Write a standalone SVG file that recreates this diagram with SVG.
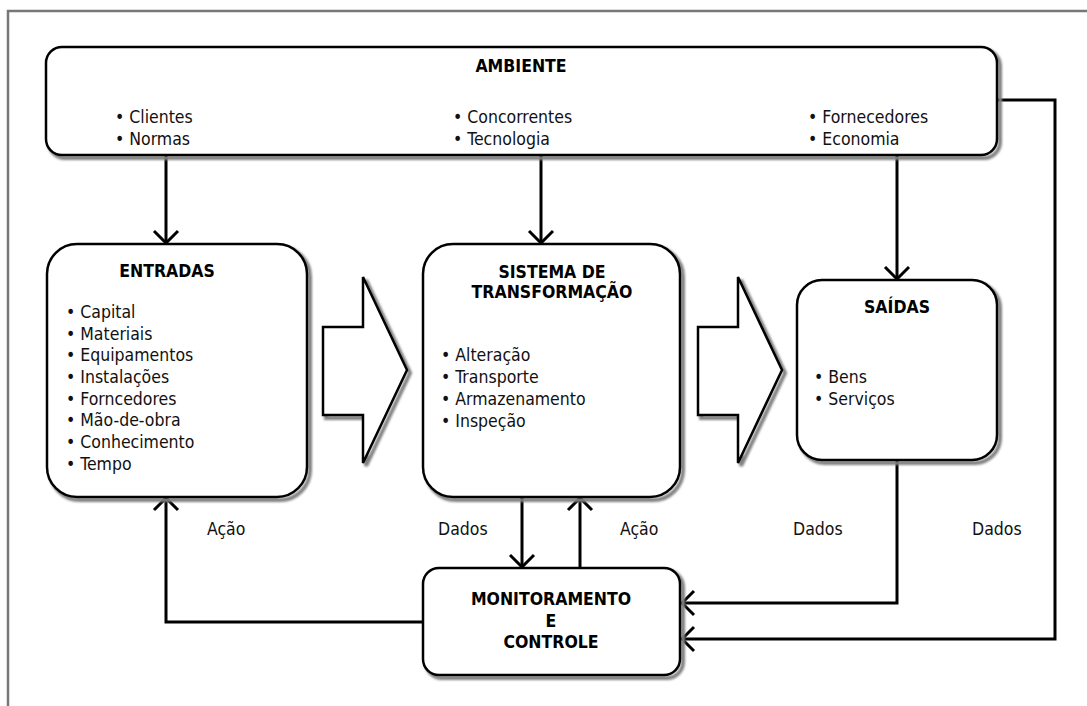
<svg xmlns="http://www.w3.org/2000/svg" width="1087" height="706" viewBox="0 0 1087 706">
  <style>
    .box{fill:#fff;stroke:#000;stroke-width:2.5}
    .sh{fill:none;stroke:#808080;stroke-width:4;filter:url(#soft)}
    .t{font-family:"DejaVu Sans Condensed","DejaVu Sans",sans-serif;font-size:17.5px;fill:#111}
    .h{font-weight:bold;text-anchor:middle;fill:#000}
    .c{fill:none;stroke:#000;stroke-width:3}
  </style>
  <defs>
    <filter id="soft" x="-5%" y="-5%" width="110%" height="110%">
      <feGaussianBlur stdDeviation="0.8"/>
    </filter>
    <marker id="open" markerUnits="userSpaceOnUse" viewBox="0 0 16 28" markerWidth="16" markerHeight="28" refX="14" refY="14" orient="auto">
      <path d="M2,2 L14,14 L2,26" fill="none" stroke="#000" stroke-width="3"/>
    </marker>
  </defs>
  <rect width="1087" height="706" fill="#fff"/>
  <!-- page frame -->
  <path d="M8,706 V11 H1087" fill="none" stroke="#777" stroke-width="2.5"/>

  <!-- connectors -->
  <g id="connectors">
    <path class="c" d="M166,155 V243" marker-end="url(#open)"/>
    <path class="c" d="M541,155 V243" marker-end="url(#open)"/>
    <path class="c" d="M897,155 V279" marker-end="url(#open)"/>
    <path class="c" d="M522,497 V567" marker-end="url(#open)"/>
    <path class="c" d="M580,568 V498" marker-end="url(#open)"/>
    <path class="c" d="M423,622 H166 V498" marker-end="url(#open)"/>
    <path class="c" d="M897,460 V603 H682" marker-end="url(#open)"/>
    <path class="c" d="M997,100 H1055 V639 H682" marker-end="url(#open)"/>
    <g class="t">
      <text x="207" y="535">Ação</text>
      <text x="438" y="535">Dados</text>
      <text x="620" y="535">Ação</text>
      <text x="793" y="535">Dados</text>
      <text x="972" y="535">Dados</text>
    </g>
  </g>

  <!-- environment -->
  <g id="ambiente">
    <rect class="sh" x="49" y="50" width="951" height="108" rx="16"/>
    <rect class="box" x="46" y="47" width="951" height="108" rx="16"/>
    <text class="t h" x="521" y="72">AMBIENTE</text>
    <g class="t">
      <text x="115" y="123">• Clientes</text>
      <text x="115" y="145">• Normas</text>
      <text x="453" y="123">• Concorrentes</text>
      <text x="453" y="145">• Tecnologia</text>
      <text x="808" y="123">• Fornecedores</text>
      <text x="808" y="145">• Economia</text>
    </g>
  </g>

  <!-- inputs -->
  <g id="entradas">
    <rect class="sh" x="50" y="247" width="260" height="253" rx="30"/>
    <rect class="box" x="47" y="244" width="260" height="253" rx="30"/>
    <text class="t h" x="167" y="277">ENTRADAS</text>
    <g class="t">
      <text x="66" y="318">• Capital</text>
      <text x="66" y="340">• Materiais</text>
      <text x="66" y="361">• Equipamentos</text>
      <text x="66" y="383">• Instalações</text>
      <text x="66" y="405">• Forncedores</text>
      <text x="66" y="426">• Mão-de-obra</text>
      <text x="66" y="448">• Conhecimento</text>
      <text x="66" y="470">• Tempo</text>
    </g>
  </g>

  <!-- block arrow: inputs to transformation -->
  <g id="fluxo1">
    <polygon class="sh" points="326,330 366,330 366,280 410,373 366,466 366,418 326,418"/>
    <polygon class="box" points="323,327 363,327 363,277 407,370 363,463 363,415 323,415"/>
  </g>

  <!-- transformation system -->
  <g id="sistema">
    <rect class="sh" x="426" y="247" width="257" height="253" rx="30"/>
    <rect class="box" x="423" y="244" width="257" height="253" rx="30"/>
    <text class="t h" x="552" y="278">SISTEMA DE</text>
    <text class="t h" x="552" y="298">TRANSFORMAÇÃO</text>
    <g class="t">
      <text x="441" y="361">• Alteração</text>
      <text x="441" y="383">• Transporte</text>
      <text x="441" y="405">• Armazenamento</text>
      <text x="441" y="427">• Inspeção</text>
    </g>
  </g>

  <!-- block arrow: transformation to outputs -->
  <g id="fluxo2">
    <polygon class="sh" points="701,330 741,330 741,280 785,373 741,466 741,418 701,418"/>
    <polygon class="box" points="698,327 738,327 738,277 782,370 738,463 738,415 698,415"/>
  </g>

  <!-- outputs -->
  <g id="saidas">
    <rect class="sh" x="800" y="283" width="200" height="180" rx="25"/>
    <rect class="box" x="797" y="280" width="200" height="180" rx="25"/>
    <text class="t h" x="897" y="313">SAÍDAS</text>
    <g class="t">
      <text x="814" y="383">• Bens</text>
      <text x="814" y="405">• Serviços</text>
    </g>
  </g>

  <!-- monitoring and control -->
  <g id="monitoramento">
    <rect class="sh" x="426" y="571" width="257" height="107" rx="16"/>
    <rect class="box" x="423" y="568" width="257" height="107" rx="16"/>
    <text class="t h" x="551" y="605">MONITORAMENTO</text>
    <text class="t h" x="551" y="627">E</text>
    <text class="t h" x="551" y="648">CONTROLE</text>
  </g>
</svg>
